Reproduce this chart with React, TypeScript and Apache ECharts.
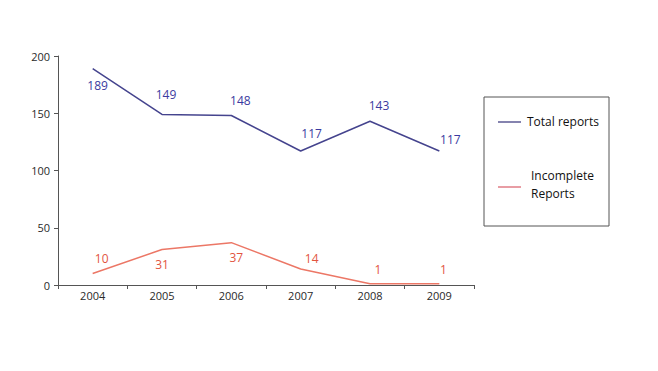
import React, { useEffect, useRef } from "react";
import * as echarts from "echarts";

const years = ["2004", "2005", "2006", "2007", "2008", "2009"];
const totalReports = [189, 149, 148, 117, 143, 117];
const incompleteReports = [10, 31, 37, 14, 1, 1];
const yTicks = [0, 50, 100, 150, 200];

// label offset from its point: [dx, dy]
const totalLabelOffset: [number, number][] = [
  [5, 17],
  [4, -20],
  [9, -15],
  [11, -18],
  [9, -16],
  [11, -12],
];
const incompleteLabelOffset: [number, number][] = [
  [9, -15],
  [0, 15],
  [5, 15],
  [11, -10],
  [8, -14],
  [4, -14],
];

const BLUE_LINE = "#45448e";
const BLUE_TEXT = "#3b3aa0";
const RED_LINE = "#ec7766";
const RED_TEXT = "#e2553f";
const FONT = "'Open Sans', 'Noto Sans', sans-serif";

export default function App() {
  const ref = useRef<HTMLDivElement>(null);
  useEffect(() => {
    if (!ref.current) return;
    const chart = echarts.init(ref.current, null, { renderer: "svg" });
    const mk = (vals: number[], off: [number, number][], color: string) =>
      vals.map((v, i) => ({
        value: v,
        label: {
          show: true,
          position: "inside",
          offset: off[i],
          color,
          fontSize: 12,
          fontFamily: FONT,
        },
      }));
    chart.setOption({
      animation: false,
      backgroundColor: "#ffffff",
      grid: { left: 58, right: 184, top: 56, bottom: 86 },
      xAxis: {
        type: "category",
        data: years,
        boundaryGap: true,
        axisLine: { lineStyle: { color: "#555", width: 1 } },
        axisTick: { show: true, length: 4, lineStyle: { color: "#555" } },
        axisLabel: { color: "#2a2a2a", fontSize: 11, fontFamily: FONT, margin: 5 },
      },
      yAxis: {
        type: "value",
        min: 0,
        max: 200,
        interval: 50,
        axisLine: { show: true, lineStyle: { color: "#555", width: 1 } },
        axisTick: { show: true, length: 4, lineStyle: { color: "#555" } },
        splitLine: { show: false },
        axisLabel: {
          color: "#2a2a2a",
          fontSize: 11,
          fontFamily: FONT,
          margin: 8,
          formatter: (v: number) => (yTicks.includes(v) ? String(v) : ""),
        },
      },
      series: [
        {
          name: "Total reports",
          type: "line",
          data: mk(totalReports, totalLabelOffset, BLUE_TEXT),
          symbol: "circle",
          symbolSize: 0,
          showSymbol: true,
          lineStyle: { color: BLUE_LINE, width: 1.5 },
          itemStyle: { color: BLUE_LINE },
        },
        {
          name: "Incomplete Reports",
          type: "line",
          data: mk(incompleteReports, incompleteLabelOffset, RED_TEXT),
          symbol: "circle",
          symbolSize: 0,
          showSymbol: true,
          lineStyle: { color: RED_LINE, width: 1.5 },
          itemStyle: { color: RED_LINE },
        },
      ],
      graphic: [
        {
          type: "rect",
          shape: { x: 484, y: 97, width: 125, height: 129 },
          style: { fill: "#fff", stroke: "#555", lineWidth: 1 },
        },
        {
          type: "line",
          shape: { x1: 498, y1: 122, x2: 521, y2: 122 },
          style: { stroke: "#5c5a94", lineWidth: 1.5 },
        },
        {
          type: "text",
          x: 527,
          y: 121,
          style: {
            text: "Total reports",
            fill: "#111",
            fontSize: 12,
            fontFamily: FONT,
            verticalAlign: "middle",
          },
        },
        {
          type: "line",
          shape: { x1: 498, y1: 187, x2: 521, y2: 187 },
          style: { stroke: "#e07c86", lineWidth: 1.5 },
        },
        {
          type: "text",
          x: 531,
          y: 184,
          style: {
            text: "Incomplete\nReports",
            fill: "#111",
            fontSize: 12,
            lineHeight: 18,
            fontFamily: FONT,
            verticalAlign: "middle",
          },
        },
      ],
    });
    return () => chart.dispose();
  }, []);
  return <div ref={ref} style={{ width: 658, height: 371, position: "absolute", left: 0, top: 0 }} />;
}
